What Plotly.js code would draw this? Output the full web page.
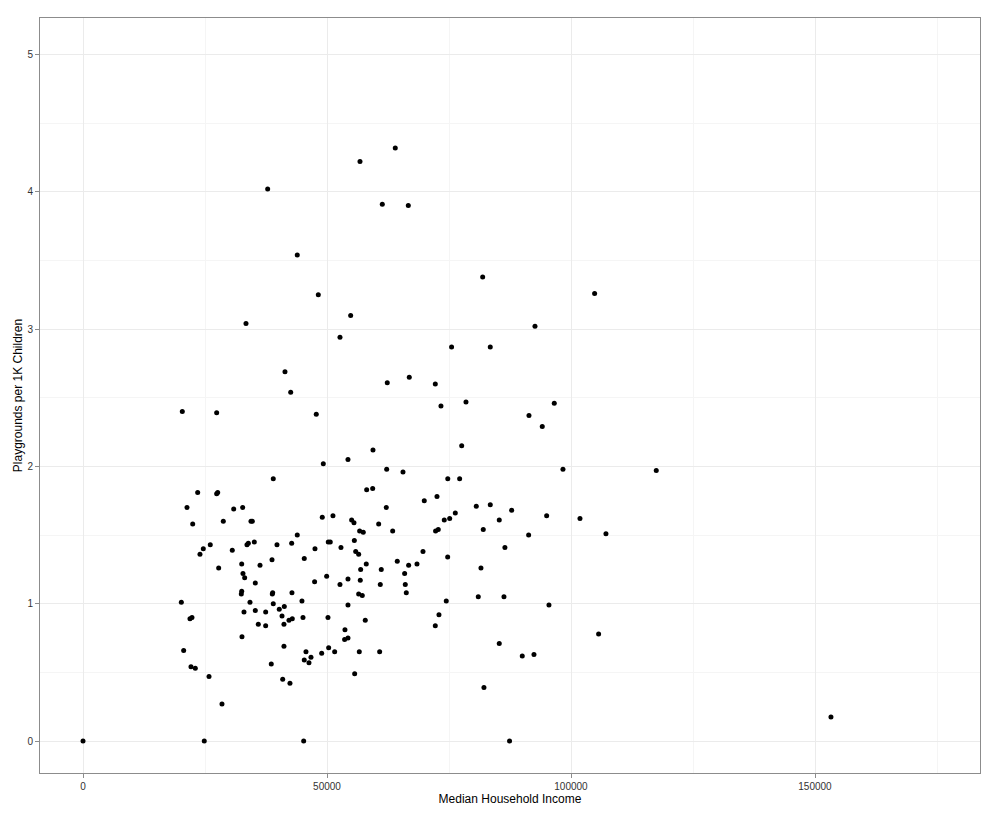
<!DOCTYPE html>
<html>
<head>
<meta charset="utf-8">
<script src="https://cdn.plot.ly/plotly-3.0.1.min.js"></script>
<style>html,body{margin:0;padding:0;background:#fff;}#chart{width:1000px;height:817px;}</style>
</head>
<body>
<div id="chart"></div>
<script>
var income = [
0, 153270, 117470,
37840, 43910, 48220, 33400, 52660, 54850,
63990, 56760, 61330, 66660, 81900, 92620,
104840,
41390, 42560, 20350, 27390, 47800, 49240, 54300, 38990, 23500, 27390, 27600,
21310, 30880, 32720, 22480, 28750, 34420, 34690, 49030, 51220, 43910,
26080, 33600, 33880, 35100, 39750, 42760, 50260, 50670, 52860,
23970, 24650, 30590, 45340, 47540, 27800, 32520, 36270, 38730, 32780, 33130, 35310,
49930, 47460, 52660, 54300, 32520, 32440, 38870, 38790, 42820, 20150, 34220, 38990,
44870, 41250, 40220, 32990, 35310, 37430, 54300, 21920, 22330, 35920, 37430, 40780,
41180, 42210, 42890, 45080, 50200, 32580, 53680, 53610, 54300, 20630, 41180, 45690,
45340, 46310, 46720, 48910, 50340, 51570, 38580, 22130, 23010, 25820, 40920, 42410,
28480, 24850, 45220,
75530, 83460, 62350, 66860, 72190, 73350, 78480, 91390, 77600, 59420, 62230, 65570,
74750, 77180, 58130, 59360, 72540, 69930, 62150, 80590, 83460, 87840, 76290, 55050,
55530, 74030, 75140, 85300, 60590, 56690, 57430, 63460, 72250, 72800, 82020, 91320,
55600, 86460,
55880, 56490, 69670, 74730, 64400, 58050, 66730, 68440, 56900, 61120, 65910, 81550,
56820, 60920, 66040, 56490, 57230, 66250, 81000, 86260, 74440, 72940, 57840, 72190,
56620, 60790, 85300, 90010, 92410, 55670, 82160, 87410,
96570, 94110, 98350, 95010, 101840, 107160, 95480, 105660
];
var playgrounds = [
0, 0.175, 1.97,
4.02, 3.54, 3.25, 3.04, 2.94, 3.10,
4.32, 4.22, 3.91, 3.90, 3.38, 3.02,
3.26,
2.69, 2.54, 2.40, 2.39, 2.38, 2.02, 2.05, 1.91, 1.81, 1.80, 1.81,
1.70, 1.69, 1.70, 1.58, 1.60, 1.60, 1.60, 1.63, 1.64, 1.50,
1.43, 1.43, 1.44, 1.45, 1.43, 1.44, 1.45, 1.45, 1.41,
1.36, 1.40, 1.39, 1.33, 1.40, 1.26, 1.29, 1.28, 1.32, 1.22, 1.19, 1.15,
1.20, 1.16, 1.14, 1.18, 1.09, 1.07, 1.08, 1.07, 1.08, 1.01, 1.01, 1.00,
1.02, 0.98, 0.96, 0.94, 0.95, 0.94, 0.99, 0.89, 0.90, 0.85, 0.84, 0.91,
0.85, 0.88, 0.89, 0.90, 0.90, 0.76, 0.81, 0.74, 0.75, 0.66, 0.69, 0.65,
0.59, 0.57, 0.61, 0.64, 0.68, 0.65, 0.56, 0.54, 0.53, 0.47, 0.45, 0.42,
0.27, 0.00, 0.00,
2.87, 2.87, 2.61, 2.65, 2.60, 2.44, 2.47, 2.37, 2.15, 2.12, 1.98, 1.96,
1.91, 1.91, 1.83, 1.84, 1.78, 1.75, 1.70, 1.71, 1.72, 1.68, 1.66, 1.61,
1.59, 1.61, 1.62, 1.61, 1.58, 1.53, 1.52, 1.53, 1.53, 1.54, 1.54, 1.50,
1.46, 1.41,
1.38, 1.36, 1.38, 1.34, 1.31, 1.29, 1.28, 1.29, 1.25, 1.25, 1.22, 1.26,
1.17, 1.14, 1.14, 1.07, 1.06, 1.08, 1.05, 1.05, 1.02, 0.92, 0.88, 0.84,
0.65, 0.65, 0.71, 0.62, 0.63, 0.49, 0.39, 0.00,
2.46, 2.29, 1.98, 1.64, 1.62, 1.51, 0.99, 0.78
];
var xTickVals = [0, 50000, 100000, 150000];
var yTickVals = [0, 1, 2, 3, 4, 5];

var trace = {
  x: income, y: playgrounds, type: 'scatter', mode: 'markers',
  marker: {color: '#000000', size: 5, line: {width: 0}},
  hoverinfo: 'skip'
};
var layout = {
  width: 1000, height: 817,
  margin: {l: 40, r: 20, t: 18, b: 44},
  paper_bgcolor: '#ffffff', plot_bgcolor: '#ffffff',
  showlegend: false,
  font: {family: 'Liberation Sans, Arial, sans-serif'},
  xaxis: {
    range: [-8811, 183811], tickvals: xTickVals, ticktext: xTickVals.map(String),
    showgrid: true, gridcolor: '#ebebeb', gridwidth: 1, zeroline: false,
    minor: {dtick: 25000, tick0: 0, showgrid: true, gridcolor: '#f5f5f5', gridwidth: 1},
    showline: true, mirror: true, linecolor: '#8c8c8c', linewidth: 1,
    ticks: 'outside', ticklen: 4, tickcolor: '#8c8c8c', tickwidth: 1,
    tickfont: {size: 10, color: '#333333'},
    title: {text: 'Median Household Income', font: {size: 12, color: '#000000'}, standoff: 3}
  },
  yaxis: {
    range: [-0.233, 5.266], tickvals: yTickVals, ticktext: yTickVals.map(String),
    showgrid: true, gridcolor: '#ebebeb', gridwidth: 1, zeroline: false,
    minor: {dtick: 0.5, tick0: 0, showgrid: true, gridcolor: '#f5f5f5', gridwidth: 1},
    showline: true, mirror: true, linecolor: '#8c8c8c', linewidth: 1,
    ticks: 'outside', ticklen: 4, tickcolor: '#8c8c8c', tickwidth: 1,
    tickfont: {size: 10, color: '#333333'},
    title: {text: 'Playgrounds per 1K Children', font: {size: 12, color: '#000000'}, standoff: 2}
  }
};
Plotly.newPlot('chart', [trace], layout, {displayModeBar: false, staticPlot: true});
</script>
</body>
</html>
